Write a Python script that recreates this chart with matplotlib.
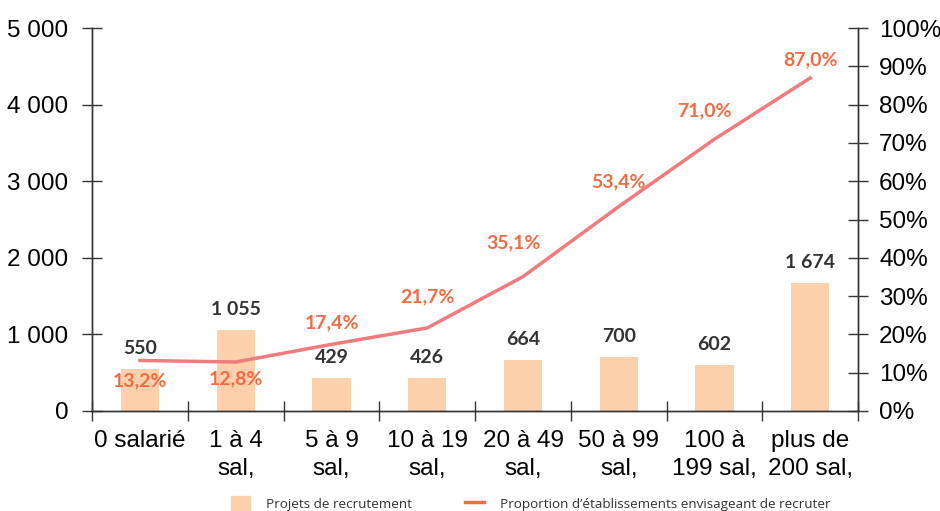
import numpy as np
import matplotlib.pyplot as plt
from matplotlib.lines import Line2D
from matplotlib.patches import Patch

# data
categories = ["0 salarié", "1 à 4\nsal,", "5 à 9\nsal,", "10 à 19\nsal,",
              "20 à 49\nsal,", "50 à 99\nsal,", "100 à\n199 sal,", "plus de\n200 sal,"]
projets = [550, 1055, 429, 426, 664, 700, 602, 1674]
proportion = [13.2, 12.8, 17.4, 21.7, 35.1, 53.4, 71.0, 87.0]

bar_col = '#fbd0ab'
line_col = '#ef7b7e'
pct_col = '#f26b45'
txt_col = '#333333'

# offsets (pixels) of the % labels relative to line points
pct_off = [(0, -20), (0, -17), (0, 22), (0, 31), (-10, 34), (0, 25), (-10, 28), (0, 18)]

fig = plt.figure(figsize=(9.4, 5.11), dpi=100)
ax = fig.add_axes([0.098, 0.1957, 0.815, 0.7493])
x = np.arange(len(categories))

ax.bar(x, projets, width=0.4, color=bar_col, zorder=1)
ax.set_xlim(-0.5, len(categories) - 0.5)
ax.set_ylim(0, 5000)
ax.set_yticks(np.arange(0, 5001, 1000))
ax.set_yticklabels(['0', '1 000', '2 000', '3 000', '4 000', '5 000'])

for xi, v in zip(x, projets):
    lab = f"{v:,}".replace(',', ' ')
    ax.annotate(lab, (xi, v), xytext=(0, 12), textcoords='offset pixels',
                ha='center', va='bottom', fontsize=14, fontweight='bold',
                color=txt_col, family='Lato')

ax2 = ax.twinx()
ax2.plot(x, proportion, color=line_col, lw=2.5, zorder=3)
ax2.set_ylim(0, 100)
ax2.set_yticks(np.arange(0, 101, 10))
ax2.set_yticklabels([f"{t}%" for t in range(0, 101, 10)])

for xi, p, off in zip(x, proportion, pct_off):
    ax2.annotate(f"{p:.1f}%".replace('.', ','), (xi, p), xytext=off,
                 textcoords='offset pixels', ha='center', va='center',
                 fontsize=14, fontweight='bold', color=pct_col, family='Lato')

# x ticks at category boundaries, labels at centres
ax.set_xticks(np.arange(-0.5, len(categories)), minor=False)
ax.set_xticklabels([])
ax.set_xticks(x, minor=True)
ax.set_xticklabels(categories, minor=True, fontsize=17.5, family='Liberation Sans',
                   linespacing=1.3)
ax.tick_params(axis='x', which='minor', length=0, pad=14)
ax.tick_params(axis='x', which='major', direction='inout', length=14, width=1, color='#333333')
ax.tick_params(axis='y', direction='inout', length=14, width=1, color='#333333',
               labelsize=17.5, pad=10)
ax2.tick_params(axis='y', direction='inout', length=14, width=1, color='#333333',
                labelsize=17.5, pad=8)
for a in (ax, ax2):
    for lab in a.get_yticklabels():
        lab.set_family('Liberation Sans')
    a.spines['top'].set_visible(False)
    for s in ('left', 'right', 'bottom'):
        a.spines[s].set_color('#333333')
        a.spines[s].set_linewidth(1)

handles = [Patch(color=bar_col), Line2D([0], [0], color=pct_col, lw=2.5)]
fig.legend(handles, ["Projets de recrutement",
                     "Proportion d’établissements envisageant de recruter"],
           loc='lower left', bbox_to_anchor=(0.233, -0.025), ncol=2, frameon=False,
           prop={'family': 'Open Sans', 'size': 9.7}, columnspacing=3.9,
           handlelength=1.4, handleheight=1.4, handletextpad=1.2, labelcolor='#333333')

fig.savefig('out.png', dpi=100)
